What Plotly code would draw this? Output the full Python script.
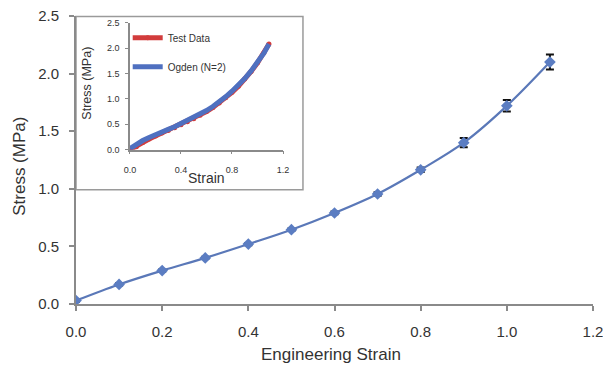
import plotly.graph_objects as go

# Main chart data
strain = [0.0, 0.1, 0.2, 0.3, 0.4, 0.5, 0.6, 0.7, 0.8, 0.9, 1.0, 1.1]
stress = [0.03, 0.17, 0.29, 0.40, 0.52, 0.645, 0.79, 0.955, 1.165, 1.40, 1.72, 2.10]
stress_err = [0.01, 0.01, 0.01, 0.01, 0.01, 0.01, 0.012, 0.015, 0.02, 0.04, 0.05, 0.065]

# Inset data
inset_strain = [0.0, 0.05, 0.1, 0.15, 0.2, 0.25, 0.3, 0.35, 0.4, 0.45, 0.5, 0.55,
                0.6, 0.65, 0.7, 0.75, 0.8, 0.85, 0.9, 0.95, 1.0, 1.05, 1.09]
test_stress = [0.0, 0.06, 0.14, 0.21, 0.27, 0.33, 0.38, 0.43, 0.49, 0.55, 0.61, 0.68,
               0.75, 0.83, 0.92, 1.02, 1.13, 1.25, 1.39, 1.54, 1.71, 1.90, 2.08]
ogden_stress = [0.02, 0.11, 0.18, 0.24, 0.30, 0.35, 0.40, 0.45, 0.51, 0.57, 0.63, 0.70,
                0.77, 0.85, 0.94, 1.04, 1.15, 1.27, 1.40, 1.55, 1.72, 1.90, 2.08]

main_ticks = [0.0, 0.2, 0.4, 0.6, 0.8, 1.0, 1.2]
main_yticks = [0.0, 0.5, 1.0, 1.5, 2.0, 2.5]
inset_xticks = [0.0, 0.4, 0.8, 1.2]
inset_yticks = [0.0, 0.5, 1.0, 1.5, 2.0, 2.5]

FONT = "Liberation Sans, Arial, sans-serif"
AXIS_GREY = "#8a8a8a"
TEXT = "#333333"

fig = go.Figure()

fig.add_trace(go.Scatter(
    x=strain, y=stress, mode="lines+markers",
    line=dict(color="#5a78b8", width=2.2, shape="spline"),
    marker=dict(symbol="diamond", size=9, color="#5b7dc2"),
    error_y=dict(type="data", array=stress_err, color="#111111", thickness=2, width=4),
    showlegend=False, xaxis="x", yaxis="y",
))

fig.add_trace(go.Scatter(
    x=inset_strain, y=test_stress, mode="lines+markers", name="Test Data",
    line=dict(color="#d23c3c", width=5),
    marker=dict(color="#d23c3c", size=5),
    legendgroup="a", xaxis="x2", yaxis="y2",
))
fig.add_trace(go.Scatter(
    x=inset_strain, y=ogden_stress, mode="lines", name="Ogden (N=2)",
    line=dict(color="#4f70c0", width=5),
    legendgroup="b", xaxis="x2", yaxis="y2",
))

# Inset frame
fig.add_shape(type="rect", xref="paper", yref="paper",
              x0=0, x1=0.439, y0=0.3965, y1=0.998,
              line=dict(color="#9a9a9a", width=1.5), fillcolor="white", layer="below")

fig.update_layout(
    width=603, height=367,
    margin=dict(l=76, r=10, t=16, b=63),
    paper_bgcolor="white", plot_bgcolor="white",
    font=dict(family=FONT, color=TEXT),
    xaxis=dict(
        range=[0, 1.2], tickvals=main_ticks, tickformat=".1f", automargin=False,
        showgrid=False, zeroline=False, showline=True, linecolor=AXIS_GREY, linewidth=2,
        ticks="outside", ticklen=5, tickcolor=AXIS_GREY, tickwidth=1.5,
        tickfont=dict(size=15, color=TEXT), ticklabelstandoff=8,
        ticklabeloverflow="allow",
    ),
    yaxis=dict(
        range=[0, 2.5], tickvals=main_yticks, tickformat=".1f", automargin=False,
        showgrid=False, zeroline=False, showline=True, linecolor=AXIS_GREY, linewidth=2,
        ticks="outside", ticklen=5, tickcolor=AXIS_GREY, tickwidth=1.5,
        tickfont=dict(size=15, color=TEXT), ticklabelstandoff=7,
        ticklabeloverflow="allow",
    ),
    xaxis2=dict(
        domain=[0.1044, 0.4004], anchor="y2", range=[0, 1.2], tickvals=inset_xticks,
        tickformat=".1f", automargin=False,
        showgrid=False, zeroline=False, showline=True, linecolor=AXIS_GREY, linewidth=1.5,
        ticks="outside", ticklen=3, tickcolor=AXIS_GREY,
        tickfont=dict(size=9, color=TEXT), ticklabelstandoff=8,
    ),
    yaxis2=dict(
        domain=[0.5357, 0.977], anchor="x2", range=[0, 2.5], tickvals=inset_yticks,
        tickformat=".1f", automargin=False,
        showgrid=False, zeroline=False, showline=True, linecolor=AXIS_GREY, linewidth=1.5,
        ticks="outside", ticklen=3, tickcolor=AXIS_GREY,
        tickfont=dict(size=9, color=TEXT), ticklabelstandoff=4,
    ),
    legend=dict(
        x=0.1, y=0.975, xanchor="left", yanchor="top",
        bgcolor="rgba(0,0,0,0)", font=dict(size=10, color=TEXT),
        tracegroupgap=10, itemwidth=30,
    ),
    annotations=[
        dict(text="Engineering Strain", xref="paper", yref="paper", x=0.494, y=-0.177,
             showarrow=False, font=dict(size=17, color=TEXT), xanchor="center", yanchor="middle"),
        dict(text="Stress (MPa)", xref="paper", yref="paper", x=-0.1083, y=0.4765,
             showarrow=False, textangle=-90, font=dict(size=17, color=TEXT),
             xanchor="center", yanchor="middle"),
        dict(text="Strain", xref="x2", yref="paper", x=0.6, y=(304 - 178) / 287.5,
             showarrow=False, font=dict(size=14, color=TEXT), xanchor="center", yanchor="middle"),
        dict(text="Stress (MPa)", xref="paper", yref="y2", x=(87 - 76) / 517, y=1.3,
             showarrow=False, textangle=-90, font=dict(size=12.5, color=TEXT),
             xanchor="center", yanchor="middle"),
    ],
)

fig.write_html("out.html", config={"displayModeBar": False},
               post_script="document.body.style.margin='0';document.body.style.overflow='hidden';")
